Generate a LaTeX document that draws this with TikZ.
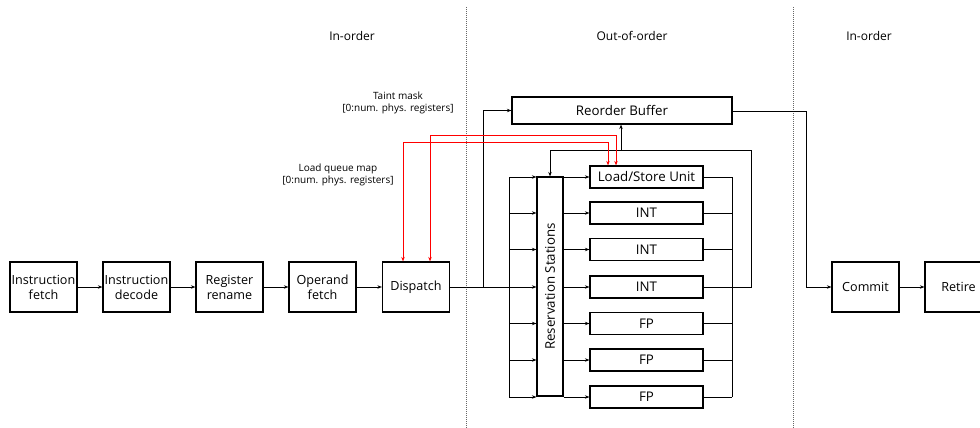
\documentclass[tikz,border=0pt]{standalone}
\usepackage{fontspec}
\setmainfont{Open Sans}
\usetikzlibrary{arrows.meta}
\begin{document}
\begin{tikzpicture}[x=1pt,y=-1pt,
  box/.style={draw, line width=1.2pt, minimum width=67pt, minimum height=50pt, align=center, inner sep=0pt, font=\fontsize{12.6}{15}\selectfont},
  unit/.style={draw, line width=1.2pt, minimum width=113pt, minimum height=22pt, inner sep=0pt, font=\fontsize{13.3}{15}\selectfont},
  arr/.style={line width=0.8pt, -{Stealth[length=4.5pt,width=3.5pt]}},
  ln/.style={line width=0.8pt},
  redarr/.style={line width=0.8pt, red, {Stealth[length=4.5pt,width=3.5pt]}-{Stealth[length=4.5pt,width=3.5pt]}},
  divider/.style={line width=0.7pt, gray!80!black, dash pattern=on 1pt off 1pt},
  sect/.style={font=\fontsize{12}{14}\selectfont},
  small/.style={font=\fontsize{10}{12.5}\selectfont, align=center}
]
\useasboundingbox (0,0) rectangle (980,428);
\begin{scope}
\clip (0,0) rectangle (980,428);
% dividers
\draw[divider] (466,7) -- (466,428);
\draw[divider] (793,7) -- (793,428);
% section labels
\node[sect] (s1) at (352,36) {In-order};
\node[sect] (s2) at (632,36) {Out-of-order};
\node[sect] (s3) at (869,36) {In-order};
% pipeline
\node[box] (fetch) at (43.5,287) {Instruction\\fetch};
\node[box] (decode) at (136.5,287) {Instruction\\decode};
\node[box] (rename) at (229.5,287) {Register\\rename};
\node[box] (operand) at (322.5,287) {Operand\\fetch};
\node[box] (dispatch) at (416,287) {Dispatch};
\node[box] (commit) at (865.5,287) {Commit};
\node[box] (retire) at (958.5,287) {Retire};
\draw[arr] (fetch) -- (decode);
\draw[arr] (decode) -- (rename);
\draw[arr] (rename) -- (operand);
\draw[arr] (operand) -- (dispatch);
\draw[arr] (commit) -- (retire);
% ROB
\node[unit, minimum width=220pt, minimum height=27pt] (rob) at (622,110.5) {Reorder Buffer};
% units
\node[unit] (u1) at (646.5,177) {Load/Store Unit};
\node[unit] (u2) at (646.5,213) {INT};
\node[unit] (u3) at (646.5,249.5) {INT};
\node[unit] (u4) at (646.5,287) {INT};
\node[unit] (u5) at (646.5,323.5) {FP};
\node[unit] (u6) at (646.5,360) {FP};
\node[unit] (u7) at (646.5,397) {FP};
% reservation stations
\node[draw, line width=1.2pt, minimum width=26pt, minimum height=219pt, inner sep=0pt] (rs) at (550,286.5) {};
\node[rotate=90, font=\fontsize{13.3}{15}\selectfont] (rslabel) at (rs) {Reservation Stations};
% coordinates
\coordinate (lbus) at (509,287);
\coordinate (robin) at (483,287);
\coordinate (rbus) at (732,287);
\coordinate (fbr) at (751,287);
\coordinate (fbtop) at (751,150);
\coordinate (fbrs) at (550,150);
\coordinate (fbrob) at (621,150);
\coordinate (cm) at (806,111);
% dispatch to bus and ROB
\draw[ln] (dispatch.east) -- (lbus);
\draw[arr] (robin) |- (rob.west);
\draw[ln] (lbus |- u1) -- (lbus |- u7);
\draw[ln] (rbus |- u1) -- (rbus |- u7);
\foreach \u in {u1,u2,u3,u4,u5,u6,u7}{
  \draw[arr] (lbus |- \u) -- (rs.west |- \u);
  \draw[arr] (rs.east |- \u) -- (\u.west);
  \draw[ln] (\u.east) -- (rbus |- \u);
}
% feedback
\draw[arr] (u4.east) -- (fbr) -- (fbtop) -- (fbrs) -- (rs.north);
\draw[arr] (fbrob) -- (rob.south -| fbrob);
% ROB to commit
\draw[arr] (rob.east |- cm) -- (cm) |- (commit.west);
% red lines
\coordinate (ta) at (430,135);
\coordinate (tb) at (616,135);
\coordinate (la) at (403,142);
\coordinate (lb) at (608,142);
\draw[redarr] (dispatch.north -| ta) -- (ta) -- (tb) -- (u1.north -| tb);
\draw[redarr] (dispatch.north -| la) -- (la) -- (lb) -- (u1.north -| lb);
% labels
\node[small] (tm) at (398,103) {Taint mask\\{[0:num. phys. registers]}};
\node[small] (lq) at (338,175) {Load queue map\\{[0:num. phys. registers]}};
\end{scope}
\end{tikzpicture}
\end{document}
